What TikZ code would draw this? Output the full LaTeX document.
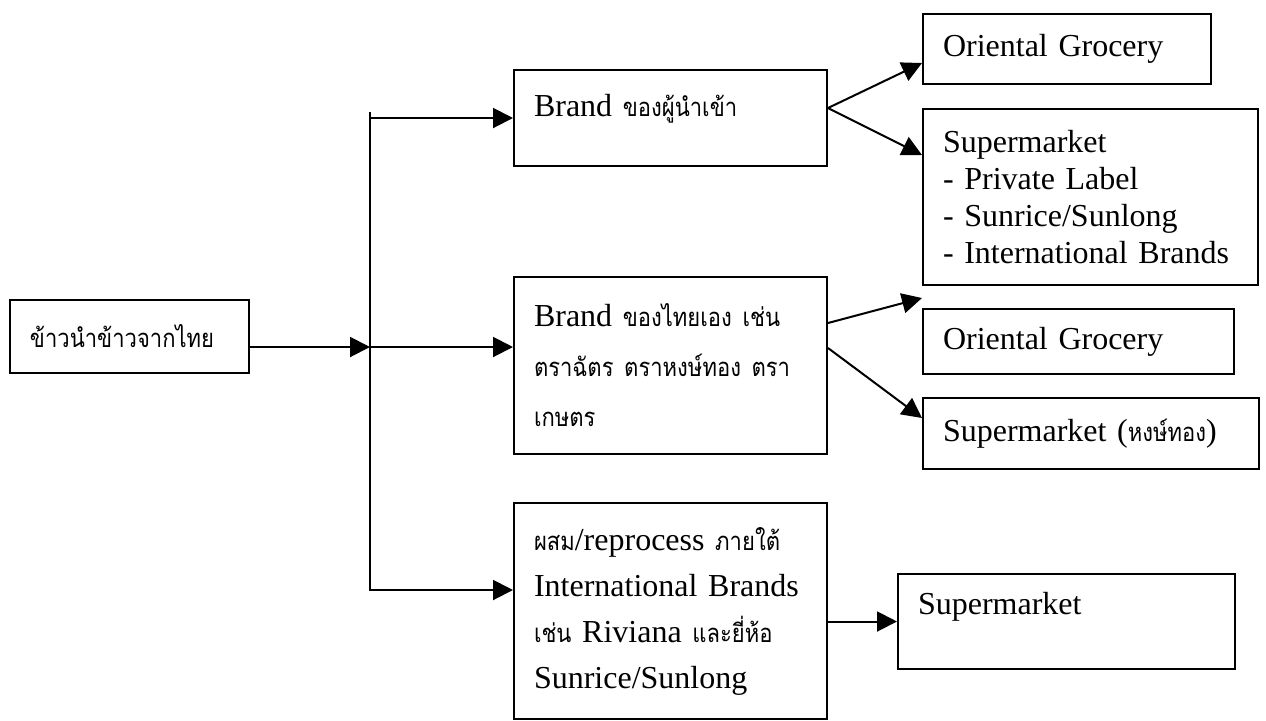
\documentclass[tikz,border=0pt]{standalone}
\usepackage{fontspec}
\setmainfont{Liberation Serif}
\newfontfamily\thaifont[Script=Thai,Scale=0.8,FakeStretch=0.86]{Loma}
\newcommand{\thaitext}[1]{{\thaifont #1}}
\usetikzlibrary{arrows.meta}

\begin{document}
\begin{tikzpicture}[x=0.5pt,y=-0.5pt,
    box/.style={draw,line width=1pt,anchor=north west,align=left,
      inner xsep=10pt,inner ysep=0pt,font=\fontsize{16}{18.5}\selectfont},
    arr/.style={line width=1pt,-{Triangle[length=10pt,width=10pt]}}]
  \useasboundingbox (0,0) rectangle (1266,720);
  % boxes
  \node[box,text width=99.5pt,minimum height=36.5pt] (rice) at (9,299) {\thaitext{ข้าวนำข้าวจากไทย}};
  \node[box,text width=136.5pt,minimum height=48pt] (imp) at (513,69) {Brand \thaitext{ของผู้นำเข้า}\\[-6pt]\mbox{}};
  \node[box,text width=136.5pt,minimum height=88.5pt,font=\fontsize{16}{25}\selectfont] (own) at (513,276)
    {Brand \thaitext{ของไทยเอง เช่น}\\\thaitext{ตราฉัตร ตราหงษ์ทอง ตรา}\\\thaitext{เกษตร}};
  \node[box,text width=136.5pt,minimum height=108pt,font=\fontsize{16}{23}\selectfont] (mix) at (513,502)
    {\thaitext{ผสม}/reprocess \thaitext{ภายใต้}\\International Brands\\\thaitext{เช่น} Riviana \thaitext{และยี่ห้อ}\\Sunrice/Sunlong};
  \node[box,text width=124pt,minimum height=35pt] (og1) at (922,13) {Oriental Grocery};
  \node[box,text width=147.5pt,minimum height=88pt] (sm1) at (922,108)
    {Supermarket\\- Private Label\\- Sunrice/Sunlong\\- International Brands};
  \node[box,text width=135.5pt,minimum height=32.5pt] (og2) at (922,308) {Oriental Grocery};
  \node[box,text width=148pt,minimum height=35.5pt] (sm2) at (922,397) {Supermarket (\thaitext{หงษ์ทอง})};
  \node[box,text width=148.5pt,minimum height=47.5pt] (sm3) at (897,573) {Supermarket\\\mbox{}};
  % trunk
  \coordinate (ttop) at (370,112);
  \coordinate (tA) at (370,118);
  \coordinate (tB) at (370,347);
  \coordinate (tC) at (370,590);
  \draw[arr] (ttop) -- (tC) -- (tC -| mix.west);
  \draw[arr] (rice.east |- tB) -- (tB);
  \draw[arr] (tA) -- (tA -| imp.west);
  \draw[arr] (tB) -- (tB -| own.west);
  % outlets
  \draw[arr] (imp.east |- 0,108) -- (og1.west |- 0,63);
  \draw[arr] (imp.east |- 0,108) -- (sm1.west |- 0,155);
  \draw[arr] (own.east |- 0,323) -- (og2.west |- 0,298);
  \draw[arr] (own.east |- 0,348) -- (sm2.west |- 0,418);
  \draw[arr] (mix.east |- sm3.west) -- (sm3.west);
\end{tikzpicture}
\end{document}
